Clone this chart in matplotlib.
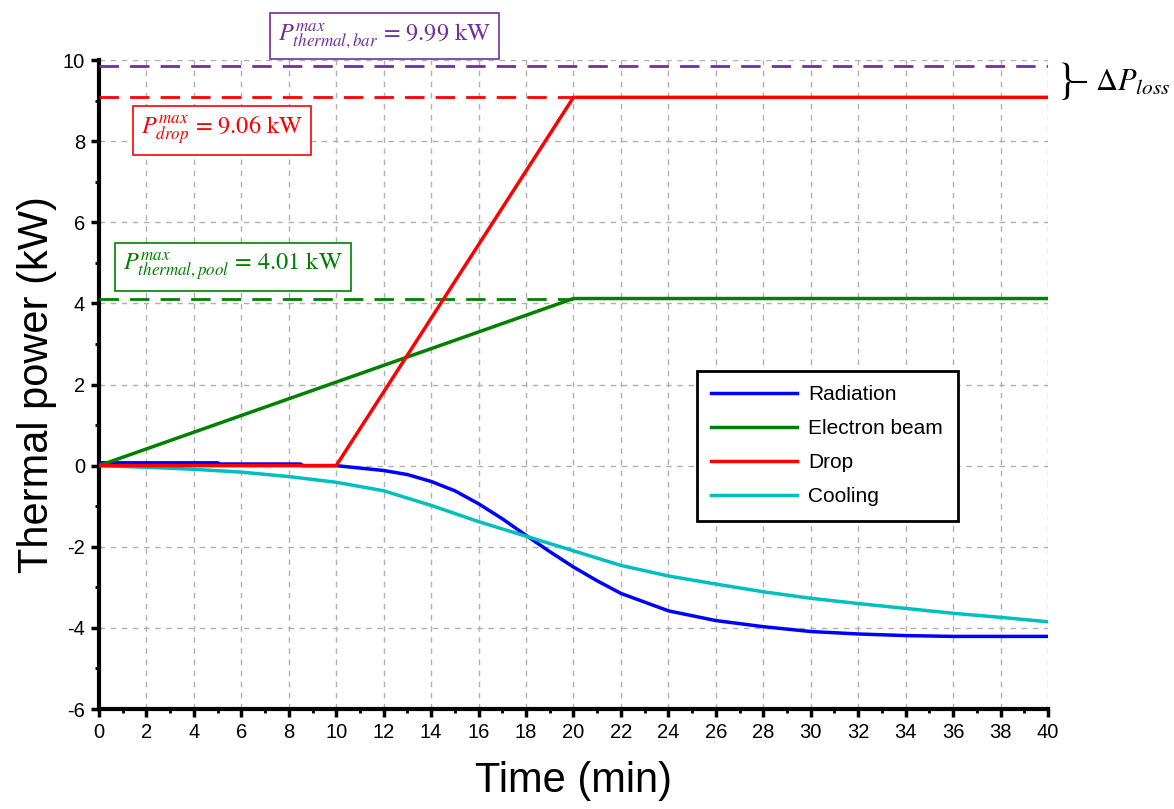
import numpy as np
import matplotlib
matplotlib.use("Agg")
import matplotlib.pyplot as plt
from matplotlib.ticker import MultipleLocator

plt.rcParams['font.family'] = ['Liberation Sans', 'DejaVu Sans']
plt.rcParams['mathtext.fontset'] = 'stix'
plt.rcParams['axes.unicode_minus'] = False

# Data (time in min, power in kW)
t_rad = [0, 2, 4, 5, 5.1, 8.5, 8.6, 10, 11, 12, 13, 14, 15, 16, 17, 18, 19, 20, 21, 22,
         24, 26, 28, 30, 32, 34, 36, 38, 40]
p_rad = [0.07, 0.07, 0.07, 0.07, 0.04, 0.04, 0.0, 0.0, -0.06, -0.12, -0.22, -0.39, -0.62,
         -0.94, -1.31, -1.72, -2.12, -2.5, -2.84, -3.15, -3.58, -3.82, -3.97, -4.09, -4.15,
         -4.19, -4.21, -4.21, -4.21]

t_beam = [0, 20, 40]
p_beam = [0.0, 4.12, 4.12]

t_drop = [0, 10, 20, 40]
p_drop = [0.0, 0.0, 9.08, 9.08]

t_cool = [0, 2, 4, 6, 8, 10, 12, 14, 16, 18, 20, 22, 24, 26, 28, 30, 32, 34, 36, 38, 40]
p_cool = [0.0, -0.04, -0.09, -0.16, -0.27, -0.41, -0.62, -0.98, -1.38, -1.74, -2.1,
          -2.46, -2.72, -2.92, -3.11, -3.27, -3.4, -3.52, -3.64, -3.74, -3.85]

p_bar_max = 9.85
p_drop_max = 9.08
p_pool_max = 4.12

purple = '#7030A0'
red = '#FF0000'
green = '#008000'
blue = '#0000FF'
cyan = '#00BFBF'

fig = plt.figure(figsize=(11.74, 8.09), dpi=100)
ax = fig.add_axes([0.0843, 0.1236, 0.8084, 0.8022])

# reference dashed lines
ax.plot([0, 40], [p_bar_max, p_bar_max], color=purple, lw=2, dashes=(7, 4), zorder=3)
ax.plot([0, 20], [p_drop_max, p_drop_max], color=red, lw=2, dashes=(7, 4), zorder=3)
ax.plot([0, 20], [p_pool_max, p_pool_max], color=green, lw=2, dashes=(7, 4), zorder=3)

ax.plot(t_rad, p_rad, color=blue, lw=2.5, label='Radiation', zorder=4)
ax.plot(t_beam, p_beam, color=green, lw=2.5, label='Electron beam', zorder=4)
ax.plot(t_drop, p_drop, color=red, lw=2.5, label='Drop', zorder=5)
ax.plot(t_cool, p_cool, color=cyan, lw=2.5, label='Cooling', zorder=4)

ax.set_xlim(0, 40)
ax.set_ylim(-6, 10)
ax.xaxis.set_major_locator(MultipleLocator(2))
ax.xaxis.set_minor_locator(MultipleLocator(1))
ax.yaxis.set_major_locator(MultipleLocator(2))
ax.yaxis.set_minor_locator(MultipleLocator(1))
ax.grid(True, which='major', color='#b0b0b0', linestyle=(0, (4, 4)), lw=1)

for s in ['top', 'right']:
    ax.spines[s].set_visible(False)
for s in ['left', 'bottom']:
    ax.spines[s].set_linewidth(3)
ax.tick_params(which='major', direction='out', length=6, width=2.5, labelsize=14.5, pad=4)
ax.tick_params(which='minor', direction='out', length=3, width=2)

ax.set_xlabel('Time (min)', fontsize=30, labelpad=14)
ax.set_ylabel('Thermal power (kW)', fontsize=30, labelpad=4)

leg = ax.legend(loc='upper left', bbox_to_anchor=(0.630, 0.521), borderaxespad=0,
                fontsize=15, frameon=True, fancybox=False, edgecolor='black',
                framealpha=1, handlelength=4.1, borderpad=0.7, labelspacing=0.72,
                handletextpad=0.55)
leg.get_frame().set_linewidth(2)

ax.text(12.05, 10.6, r'$P^{max}_{thermal,bar}$ = 9.99 kW', color=purple, fontsize=17.5,
        ha='center', va='center', family='STIXGeneral', clip_on=False,
        bbox=dict(boxstyle='square,pad=0.33', fc='white', ec=purple, lw=1.2))
ax.text(5.2, 8.27, r'$P^{max}_{drop}$ = 9.06 kW', color=red, fontsize=17.5,
        ha='center', va='center', family='STIXGeneral',
        bbox=dict(boxstyle='square,pad=0.33', fc='white', ec=red, lw=1.2), zorder=6)
ax.text(5.65, 4.9, r'$P^{max}_{thermal,pool}$ = 4.01 kW', color=green, fontsize=17.5,
        ha='center', va='center', family='STIXGeneral',
        bbox=dict(boxstyle='square,pad=0.33', fc='white', ec=green, lw=1.2), zorder=6)

# brace for the loss
ax.text(40.3, 9.46, '}', fontsize=32, ha='left', va='center', family='STIXGeneral',
        clip_on=False)
ax.plot([41.0, 41.6], [9.46, 9.46], color='black', lw=1.5, clip_on=False)
ax.text(42.0, 9.44, r'$\Delta P_{loss}$', fontsize=22, ha='left', va='center',
        clip_on=False)

fig.savefig('out.png', dpi=100)
